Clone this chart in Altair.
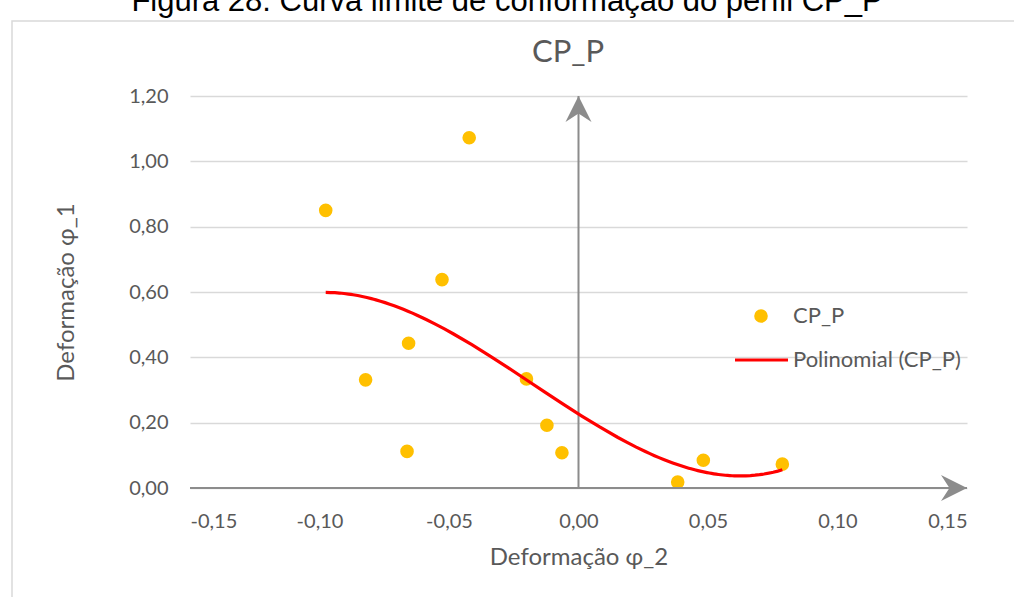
import altair as alt
import pandas as pd

# Data
phi2 = [-0.0976, -0.0422, -0.0527, -0.0656, -0.0822, -0.0662,
        -0.0201, -0.0122, -0.0064, 0.0383, 0.0482, 0.0787]
phi1 = [0.850, 1.072, 0.638, 0.443, 0.331, 0.112,
        0.334, 0.192, 0.108, 0.018, 0.085, 0.073]
x_ticks = [-0.15, -0.10, -0.05, 0.00, 0.05, 0.10, 0.15]
y_ticks = [0.0, 0.2, 0.4, 0.6, 0.8, 1.0, 1.2]
series_name = "CP_P"
trend_name = "Polinomial (CP_P)"
chart_title = "CP_P"
caption = "Figura 28: Curva limite de conformação do perfil CP_P"
x_title = "Deformação φ_2"
y_title = "Deformação φ_1"

df = pd.DataFrame({"x": phi2, "y": phi1})

FONT = "Lato"
GRAY = "#595959"
AXIS_GRAY = "#8c8c8c"

PL, PT, PR, PB = 190, 96, 47, 109
W, H = 1014 - PL - PR, 597 - PT - PB

xscale = alt.Scale(domain=[x_ticks[0], x_ticks[-1]], nice=False, zero=False)
yscale = alt.Scale(domain=[y_ticks[0], y_ticks[-1]], nice=False, zero=False)

lab = "replace(replace(format(datum.value, '.2f'), '.', ','), '\u2212', '-')"

xaxis = alt.Axis(values=x_ticks, labelExpr=lab, domain=False, ticks=False, grid=False,
                 labelFont=FONT, labelFontSize=20, labelColor=GRAY, labelPadding=23,
                 title=x_title, titleFont=FONT, titleFontSize=24, titleColor=GRAY,
                 titleFontWeight="normal", titleX=W / 2, titleY=69, titleBaseline="middle")
yaxis = alt.Axis(values=y_ticks, labelExpr=lab, domain=False, ticks=False, grid=True,
                 gridColor="#d9d9d9", gridWidth=1.5,
                 labelFont=FONT, labelFontSize=20, labelColor=GRAY, labelPadding=22,
                 title=y_title, titleFont=FONT, titleFontSize=24, titleColor=GRAY,
                 titleFontWeight="normal", titleX=66 - PL, titleY=H / 2,
                 titleAngle=-90, titleBaseline="middle", titleAlign="center")

base = alt.Chart(df)

points = base.mark_circle(size=185, color="#FFC000", opacity=1).encode(
    x=alt.X("x:Q", scale=xscale, axis=xaxis),
    y=alt.Y("y:Q", scale=yscale, axis=yaxis),
)

trend = base.transform_regression("x", "y", method="poly", order=3).mark_line(
    color="#FF0000", strokeWidth=3.2
).encode(x=alt.X("x:Q", scale=xscale), y=alt.Y("y:Q", scale=yscale))

# Crossing axes with arrowheads
ax_df = pd.DataFrame({"x0": [x_ticks[0], 0.0], "x1": [x_ticks[-1], 0.0],
                      "y0": [0.0, 0.0], "y1": [0.0, y_ticks[-1]]})
axes_lines = alt.Chart(ax_df).mark_rule(color=AXIS_GRAY, strokeWidth=2).encode(
    x=alt.X("x0:Q", scale=xscale), x2="x1:Q",
    y=alt.Y("y0:Q", scale=yscale), y2="y1:Q")

arrow_right = alt.Chart(pd.DataFrame({"x": [x_ticks[-1]], "y": [0.0]})).mark_point(
    shape="M1,0L-1,-1L-0.35,0L-1,1Z", filled=True, size=676, color=AXIS_GRAY,
    opacity=1, xOffset=-13).encode(x=alt.X("x:Q", scale=xscale), y=alt.Y("y:Q", scale=yscale))
arrow_up = alt.Chart(pd.DataFrame({"x": [0.0], "y": [y_ticks[-1]]})).mark_point(
    shape="M0,-1L1,1L0,0.35L-1,1Z", filled=True, size=676, color=AXIS_GRAY,
    opacity=1, yOffset=13).encode(x=alt.X("x:Q", scale=xscale), y=alt.Y("y:Q", scale=yscale))

one = alt.Data(values=[{}])

frame = alt.Chart(one).mark_rect(fillOpacity=0, stroke="#d9d9d9", strokeWidth=1.5).encode(
    x=alt.value(12 - PL), y=alt.value(21 - PT), x2=alt.value(1014 - PL + 20), y2=alt.value(597 - PT + 20))

title_txt = alt.Chart(one).mark_text(text=chart_title, font=FONT, fontSize=31, color=GRAY,
                                     align="center", baseline="middle").encode(
    x=alt.value(568 - PL), y=alt.value(53 - PT))

caption_txt = alt.Chart(one).mark_text(text=caption, font="Liberation Sans", fontSize=31,
                                       color="#000000", align="center",
                                       baseline="alphabetic").encode(
    x=alt.value(507 - PL), y=alt.value(11 - PT))

leg_pt = alt.Chart(one).mark_circle(size=185, color="#FFC000", opacity=1).encode(
    x=alt.value(761 - PL), y=alt.value(316 - PT))
leg_pt_txt = alt.Chart(one).mark_text(text=series_name, font=FONT, fontSize=22, color=GRAY,
                                      align="left", baseline="middle").encode(
    x=alt.value(793 - PL), y=alt.value(316 - PT))
leg_line = alt.Chart(one).mark_rule(color="#FF0000", strokeWidth=3.2).encode(
    x=alt.value(735 - PL), x2=alt.value(788 - PL), y=alt.value(360 - PT))
leg_line_txt = alt.Chart(one).mark_text(text=trend_name, font=FONT, fontSize=22, color=GRAY,
                                        align="left", baseline="middle").encode(
    x=alt.value(793 - PL), y=alt.value(360 - PT))

chart = alt.layer(
    frame, points, axes_lines, arrow_right, arrow_up, trend,
    title_txt, caption_txt, leg_pt, leg_pt_txt, leg_line, leg_line_txt
).properties(
    width=W, height=H,
    padding={"left": PL, "top": PT, "right": PR, "bottom": PB},
    autosize=alt.AutoSizeParams(type="none"),
    background="white",
).configure_view(stroke=None)

chart.save("out.html", embed_options={"renderer": "svg", "actions": False})
